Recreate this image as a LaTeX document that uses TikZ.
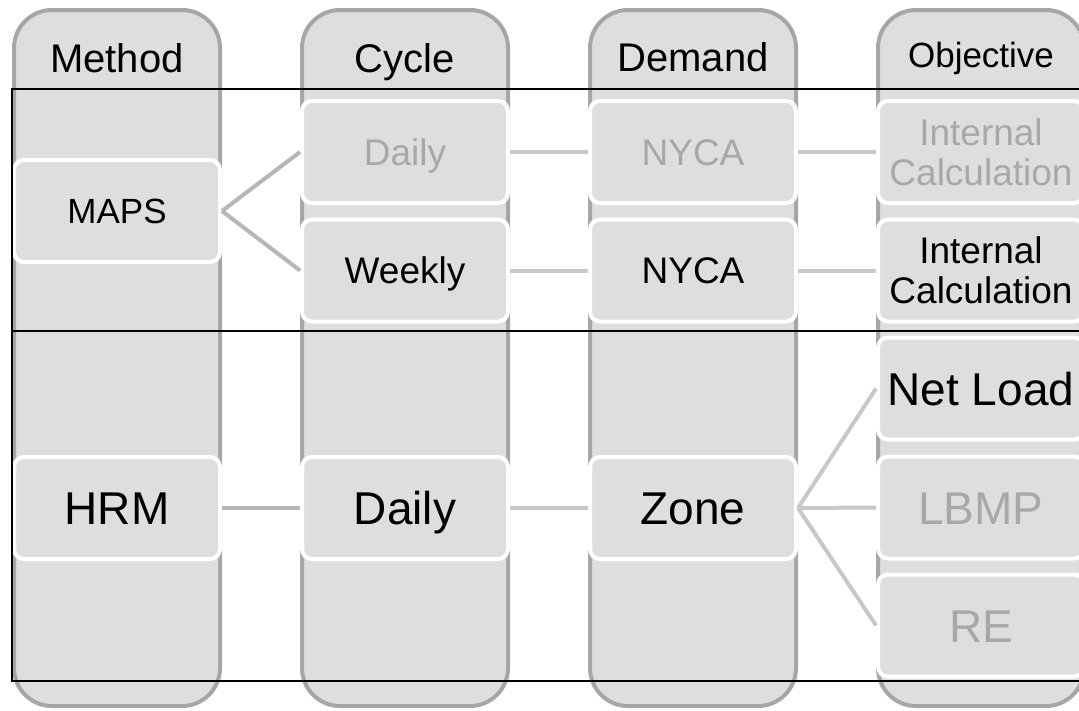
\documentclass[tikz,border=0pt]{standalone}
\usepackage{fontspec}
\setmainfont{Liberation Sans}
\usepackage{tikz}

\definecolor{lanefill}{HTML}{DEDEDE}
\definecolor{laneedge}{HTML}{A6A6A6}
\definecolor{fadetext}{HTML}{A8A8A8}
\definecolor{linklight}{HTML}{C8C8C8}
\definecolor{linkmid}{HTML}{B6B6B6}

\begin{document}
\begin{tikzpicture}[x=1pt,y=-1pt,
    lane/.style={draw=laneedge,line width=4pt,fill=lanefill,rounded corners=38pt,
      minimum width=206pt,minimum height=696pt,inner sep=0pt},
    box/.style={draw=white,line width=4pt,fill=lanefill,rounded corners=10pt,
      minimum width=206pt,minimum height=102pt,inner sep=0pt,align=center},
    head/.style={text height=28.6pt,text depth=0pt,font=\fontsize{40}{44}\selectfont},
    small/.style={font=\fontsize{37}{40}\selectfont},
    smallcap/.style={small,text height=26.5pt,text depth=0pt},
    big/.style={text height=33pt,text depth=0pt,font=\fontsize{46}{50}\selectfont},
    faded/.style={text=fadetext},
    link/.style={draw=linklight,line width=4pt},
    midlink/.style={draw=linkmid,line width=4pt}]
        \useasboundingbox (0,0) rectangle (1079,710);
        \clip (0,0) rectangle (1079,710);
        % Lanes
        \foreach \name/\x in {method/117,cycle/405,demand/693,objective/981}
            \node[lane] (\name) at (\x,358) {};
        \node[head] (methodhead) at (117,58) {Method};
        \node[head] (cyclehead) at (405,58) {Cycle};
        \node[head] (demandhead) at (693,57) {Demand};
        \node[text height=25pt,text depth=0pt,font=\fontsize{35}{40}\selectfont] (objectivehead) at (981,55) {Objective};
        % MAPS
        \node[box,text height=25pt,text depth=0pt,font=\fontsize{35}{40}\selectfont] (maps) at (117,211) {MAPS};
        \node[box,smallcap,faded] (daily1) at (405,152) {Daily};
        \node[box,smallcap] (weekly) at (405,270.5) {Weekly};
        \node[box,smallcap,faded] (nyca1) at (693,152) {NYCA};
        \node[box,smallcap] (nyca2) at (693,270.5) {NYCA};
        \node[box,small,faded] (calc1) at (981,152) {Internal\\Calculation};
        \node[box,small] (calc2) at (981,270.5) {Internal\\Calculation};
        % HRM
        \node[box,big] (hrm) at (117,508) {HRM};
        \node[box,big] (daily2) at (405,508) {Daily};
        \node[box,big] (zone) at (693,508) {Zone};
        \node[box,big] (netload) at (981,388.5) {Net Load};
        \node[box,big,faded] (lbmp) at (981,507.5) {LBMP};
        \node[box,big,faded] (re) at (981,625.5) {RE};
        % Links
        \draw[midlink] (maps.east) -- (daily1.west);
        \draw[midlink] (maps.east) -- (weekly.west);
        \draw[link] (daily1) -- (nyca1);
        \draw[link] (nyca1) -- (calc1);
        \draw[link] (weekly) -- (nyca2);
        \draw[link] (nyca2) -- (calc2);
        \draw[midlink] (hrm) -- (daily2);
        \draw[link] (daily2) -- (zone);
        \foreach \t in {netload,lbmp,re}
            \draw[link] (zone.east) -- (\t.west);
        % Frame
        \draw[line width=1.5pt] (1090,89) -- (12,89) -- (12,681) -- (1090,681);
        \draw[line width=1.5pt] (12,331) -- (1090,331);
\end{tikzpicture}
\end{document}
